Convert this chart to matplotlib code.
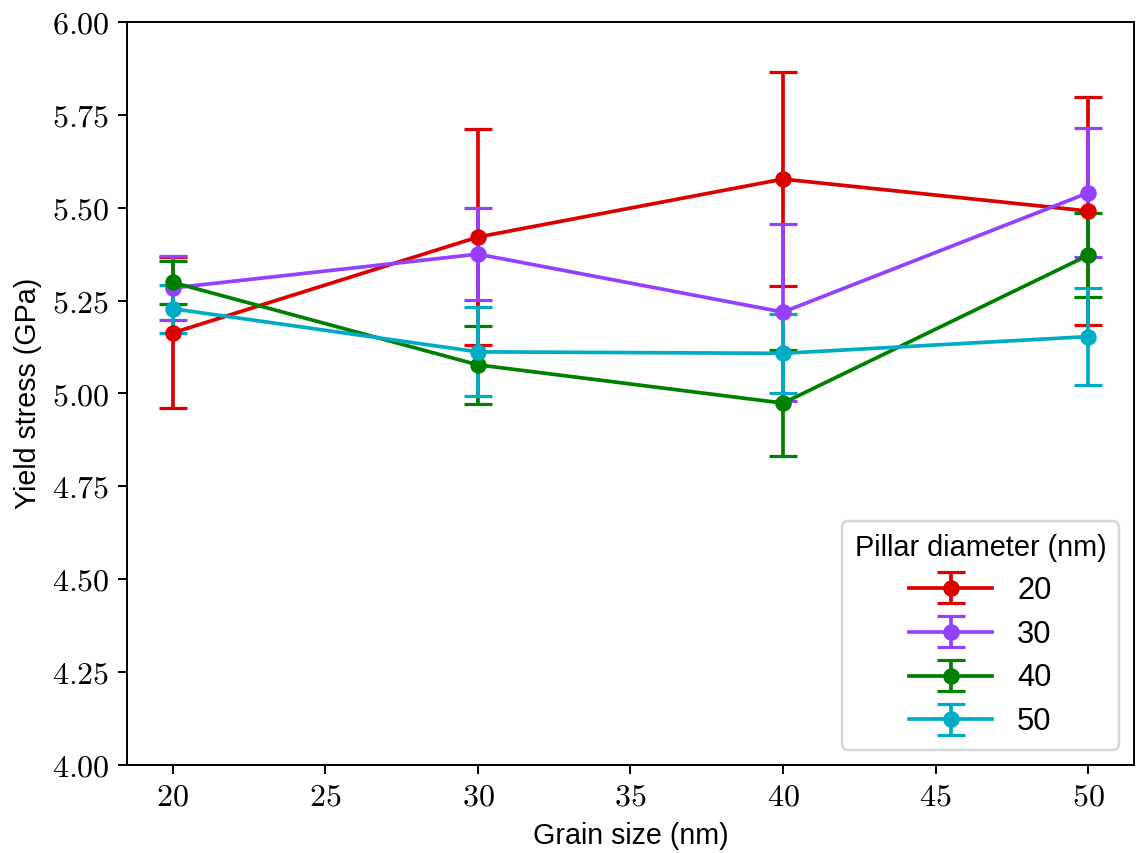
import matplotlib
matplotlib.use('Agg')
import matplotlib.pyplot as plt
from matplotlib.ticker import FuncFormatter

# grain size (nm)
grain = [20, 30, 40, 50]
diameters = ['20', '30', '40', '50']

# yield stress (GPa) per pillar diameter
ys_20 = [5.163, 5.421, 5.577, 5.491]
ys_30 = [5.284, 5.375, 5.219, 5.540]
ys_40 = [5.299, 5.077, 4.974, 5.372]
ys_50 = [5.228, 5.112, 5.108, 5.153]

# error bars (GPa)
err_20 = [0.203, 0.291, 0.289, 0.307]
err_30 = [0.085, 0.123, 0.238, 0.174]
err_40 = [0.058, 0.105, 0.142, 0.113]
err_50 = [0.065, 0.120, 0.107, 0.130]

colors = ['#dd0000', '#9440ff', '#008000', '#00acc4']

plt.rcParams['mathtext.fontset'] = 'cm'
plt.rcParams['font.family'] = ['Liberation Sans', 'DejaVu Sans']

fig = plt.figure(figsize=(6.4, 4.806), dpi=177.5)
ax = fig.add_axes([0.1118, 0.1032, 0.8864, 0.871])

series = [ys_20, ys_30, ys_40, ys_50]
errors = [err_20, err_30, err_40, err_50]
for vals, errs, col, lab in zip(series, errors, colors, diameters):
    ax.errorbar(grain, vals, yerr=errs, color=col, marker='o', markersize=5.7,
                linewidth=1.5, capsize=5.5, elinewidth=1.5, capthick=1.3,
                label=lab)

ax.set_ylim(4.0, 6.0)
ax.set_xlim(18.5, 51.5)
ax.set_yticks([4.0, 4.25, 4.5, 4.75, 5.0, 5.25, 5.5, 5.75, 6.0])
ax.yaxis.set_major_formatter(FuncFormatter(lambda v, p: f'${v:.2f}$'))
ax.xaxis.set_major_formatter(FuncFormatter(lambda v, p: f'${v:.0f}$'))
ax.tick_params(labelsize=13)

ax.set_xlabel('Grain size (nm)', fontsize=11.6)
ax.set_ylabel('Yield stress (GPa)', fontsize=11.6)

ax.legend(title='Pillar diameter (nm)', loc='lower right', fontsize=12.5,
          title_fontsize=11.7, handlelength=2.7, labelspacing=0.45)

fig.savefig('out.png', dpi=177.5)
